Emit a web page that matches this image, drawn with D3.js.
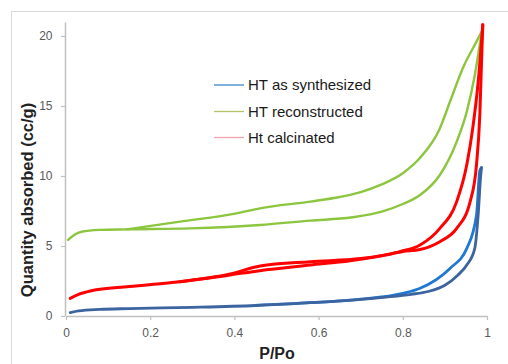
<!DOCTYPE html>
<html><head><meta charset="utf-8">
<script src="https://cdn.jsdelivr.net/npm/d3@7"></script>
<style>
html,body{margin:0;padding:0;background:#fff;}
svg{display:block;font-family:"Liberation Sans",Arial,sans-serif;}
</style></head>
<body>
<svg id="c" width="508" height="364"></svg>
<script>
// Data (P/Po, quantity adsorbed cc/g)
const xTicks = [0, 0.2, 0.4, 0.6, 0.8, 1];
const xTickLabels = ["0", "0.2", "0.4", "0.6", "0.8", "1"];
const yTicks = [0, 5, 10, 15, 20];
const seriesNames = ["HT as synthesized", "HT reconstructed", "Ht calcinated"];

const blueAdsP = [0.01,0.03,0.08,0.15,0.30,0.45,0.58,0.68,0.76,0.82,0.86,0.90,0.93,0.952,0.971,0.979,0.985,0.987];
const blueAdsV = [0.24,0.36,0.47,0.53,0.62,0.75,0.95,1.14,1.35,1.55,1.75,2.2,2.9,3.64,4.83,7.2,10.0,10.6];
const blueDesP = [0.987,0.983,0.975,0.952,0.912,0.841,0.80,0.70,0.58,0.45];
const blueDesV = [10.6,10.4,7.2,4.83,3.4,1.98,1.62,1.2,0.95,0.76];

const redAdsP = [0.01,0.03,0.06,0.15,0.27,0.39,0.46,0.58,0.675,0.75,0.80,0.841,0.888,0.928,0.96,0.975,0.983,0.988,0.990];
const redAdsV = [1.26,1.55,1.8,2.1,2.45,2.93,3.24,3.64,3.95,4.3,4.6,4.75,5.31,6.26,8.17,10.8,14.4,19.1,20.8];
const redDesP = [0.990,0.979,0.967,0.952,0.928,0.888,0.841,0.793,0.70,0.58,0.461,0.39,0.27];
const redDesV = [20.8,16.7,13.6,10.8,8.17,6.26,5.07,4.6,4.1,3.88,3.57,3.0,2.45];

const greenAdsP = [0.005,0.02,0.037,0.08,0.144,0.295,0.461,0.58,0.68,0.75,0.80,0.841,0.888,0.928,0.952,0.971,0.985,0.988];
const greenAdsV = [5.43,5.8,6.02,6.15,6.19,6.26,6.5,6.81,7.05,7.45,8.0,8.64,10.07,12.45,14.6,17.2,19.8,20.35];
const greenDesP = [0.988,0.975,0.944,0.912,0.888,0.841,0.80,0.75,0.70,0.65,0.58,0.461,0.405,0.271,0.144];
const greenDesV = [20.35,19.6,17.8,15.3,13.4,11.3,10.2,9.4,8.85,8.5,8.17,7.69,7.33,6.74,6.19];

const svg = d3.select("#c");
// outer frame
svg.append("rect").attr("x",11.5).attr("y",11.5).attr("width",510).attr("height",370)
  .attr("fill","#fff").attr("stroke","#d9d9d9").attr("stroke-width",1);

const x = d3.scaleLinear().domain([0,1]).range([66,487]);
const y = d3.scaleLinear().domain([0,21]).range([316,22]);

// y axis
const yAxis = svg.append("g").attr("transform","translate(65,0)")
  .call(d3.axisLeft(y).tickValues(yTicks).tickSize(4).tickPadding(8).tickSizeOuter(0));
yAxis.select(".domain").attr("stroke","#c0c0c0").attr("stroke-width",1.5);
yAxis.selectAll(".tick line").attr("stroke","#c0c0c0").attr("stroke-width",1.2);
yAxis.selectAll(".tick text").attr("fill","#595959").attr("font-size","12px").attr("dx","-0.5");

// x axis
const xAxis = svg.append("g").attr("transform","translate(0,316)")
  .call(d3.axisBottom(x).tickValues(xTicks).tickFormat((d,i)=>xTickLabels[i]).tickSize(4).tickPadding(8).tickSizeOuter(0));
xAxis.select(".domain").attr("stroke","#c0c0c0").attr("stroke-width",1.5);
xAxis.selectAll(".tick line").attr("stroke","#c0c0c0").attr("stroke-width",1.2);
xAxis.selectAll(".tick text").attr("fill","#595959").attr("font-size","12px");

// titles
svg.append("text").attr("x",277).attr("y",359).attr("text-anchor","middle")
  .attr("font-size","16px").attr("font-weight","bold").attr("fill","#222").text("P/Po");
svg.append("text").attr("transform","translate(33,200) rotate(-90)").attr("text-anchor","middle")
  .attr("font-size","16.5px").attr("font-weight","bold").attr("fill","#222").text("Quantity absorbed (cc/g)");

const line = d3.line().x(d=>x(d[0])).y(d=>y(d[1])).curve(d3.curveMonotoneX);
const zip = (a,b)=>a.map((v,i)=>[v,b[i]]).sort((m,n)=>m[0]-n[0]);

function branch(P,V,color,w){
  svg.append("path").attr("d",line(zip(P,V))).attr("fill","none")
    .attr("stroke",color).attr("stroke-width",w).attr("stroke-linecap","round").attr("stroke-linejoin","round");
}
branch(greenAdsP,greenAdsV,"#8cc63f",2.4);
branch(greenDesP,greenDesV,"#8cc63f",2.4);
branch(redAdsP,redAdsV,"#ff0000",3);
branch(redDesP,redDesV,"#ff0000",3);
branch(blueDesP,blueDesV,"#1f78d1",2.8);
branch(blueAdsP,blueAdsV,"#3b64a0",2.8);

// legend
const legColors = ["#3c86cc","#b2c46a","#f2a3ab"];
const legY = [85,111.5,137.5];
seriesNames.forEach((n,i)=>{
  svg.append("line").attr("x1",214).attr("x2",244).attr("y1",legY[i]).attr("y2",legY[i])
    .attr("stroke",legColors[i]).attr("stroke-width",1.3);
  svg.append("text").attr("x",248).attr("y",legY[i]+5).attr("font-size","15px").attr("fill","#1a1a1a").text(n);
});
</script>
</body></html>
